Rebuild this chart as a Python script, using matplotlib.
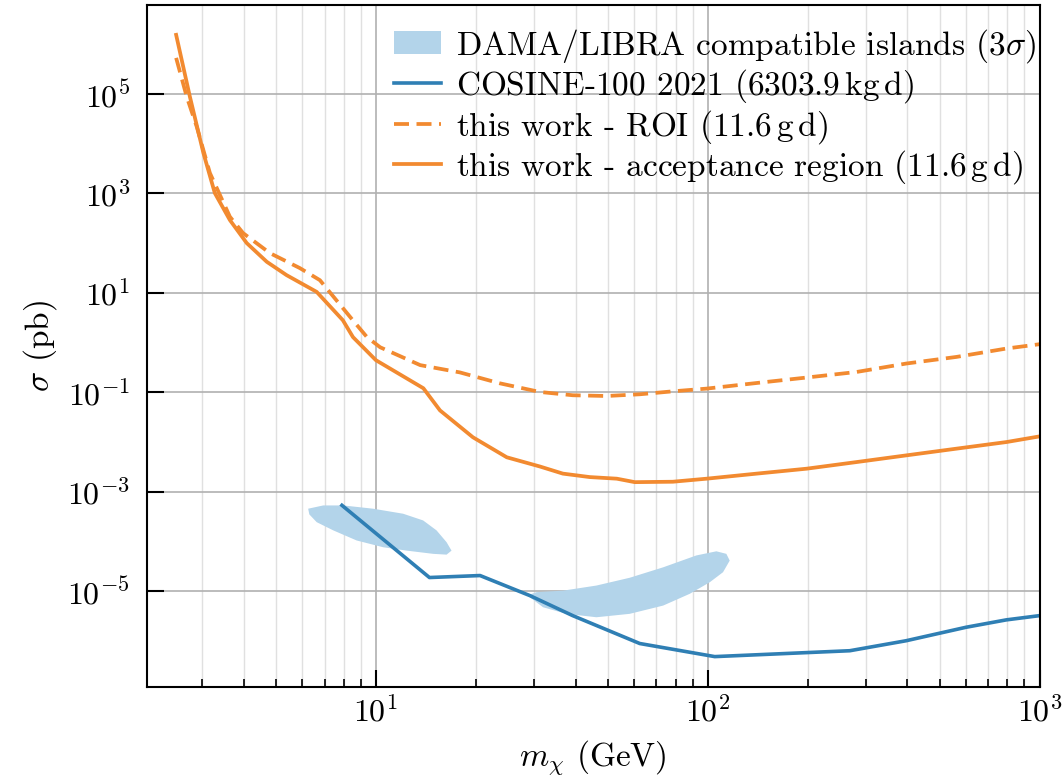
import numpy as np
import matplotlib
matplotlib.use('Agg')
import matplotlib.pyplot as plt

plt.rcParams['font.family'] = 'serif'
plt.rcParams['font.serif'] = ['cmr10']
plt.rcParams['mathtext.fontset'] = 'cm'
plt.rcParams['axes.formatter.use_mathtext'] = True
plt.rcParams['font.size'] = 23

# this work - acceptance region
m_acc = [2.50, 2.75, 3.02, 3.27, 3.63, 4.08, 4.69, 5.38, 6.63, 7.95, 8.53, 10.0, 13.9, 15.6,
         19.6, 24.8, 31.2, 36.6, 44.1, 53.2, 60.3, 78.5, 99.3, 140.5, 198.6, 281, 397,
         562, 795, 1000]
s_acc = [1.54e6, 8.8e4, 6.5e3, 1.01e3, 290, 99.8, 41.9, 22.6, 10.4, 2.8, 1.28, 0.44, 0.12,
         0.043, 0.0124, 0.0049, 0.0032, 0.0023, 0.00196, 0.00182, 0.00155, 0.00158,
         0.00182, 0.0023, 0.00289, 0.00393, 0.00536, 0.00731, 0.00993, 0.0129]

# this work - ROI
m_roi = [2.50, 2.69, 2.884, 3.16, 3.63, 3.98, 4.79, 5.90, 6.78, 8.52, 9.4, 10.3, 13.6,
         17.9, 23.6, 31.2, 39.2, 49.6, 62.4, 78.5, 99.3, 140.5, 198.6, 281, 397, 562,
         795, 1000]
s_roi = [5.3e5, 8.8e4, 2.19e4, 2.56e3, 338, 158, 62.8, 31.3, 17.9, 2.8, 1.28, 0.80, 0.35,
         0.25, 0.151, 0.101, 0.0867, 0.0838, 0.0907, 0.104, 0.118, 0.153, 0.197, 0.255,
         0.377, 0.512, 0.755, 0.922]

# COSINE-100 2021
m_cos = [7.9, 14.5, 20.6, 29.1, 39.2, 62.4, 105, 268, 396, 601, 794, 1000]
s_cos = [5.3e-4, 1.87e-5, 2.05e-5, 8.1e-6, 3.2e-6, 8.8e-7, 4.8e-7, 6.3e-7, 1.0e-6,
         1.87e-6, 2.63e-6, 3.2e-6]

# DAMA/LIBRA islands (contour outlines)
m_dama1 = [6.25, 6.94, 7.97, 9.81, 12.08, 13.88, 15.23, 16.33, 16.9, 16.33, 14.88,
           12.38, 10.52, 8.75, 7.44, 6.63, 6.30]
s_dama1 = [4.53e-4, 5.27e-4, 5.27e-4, 4.53e-4, 3.59e-4, 2.63e-4, 1.66e-4, 9.6e-5, 6.5e-5,
           5.4e-5, 5.6e-5, 6.5e-5, 7.6e-5, 1.04e-4, 1.66e-4, 2.43e-4, 3.48e-4]
m_dama2 = [29.1, 31.9, 37.5, 46.2, 58.2, 73.4, 88.3, 101.4, 111.2, 116.5, 113.8, 106.2,
           92.4, 73.4, 58.2, 46.2, 36.7, 30.5, 29.1]
s_dama2 = [7.5e-6, 4.72e-6, 3.48e-6, 2.97e-6, 3.48e-6, 5.1e-6, 8.8e-6, 1.5e-5, 2.39e-5,
           4.1e-5, 5.6e-5, 6.3e-5, 5.2e-5, 3.0e-5, 1.85e-5, 1.29e-5, 1.02e-5, 9.5e-6, 8.5e-6]

c_orange = '#f28a30'
c_blue = '#2f7fb4'
c_fill = '#b3d4ea'

fig = plt.figure(figsize=(10.64, 7.76), dpi=100)
ax = fig.add_axes([0.138, 0.1147, 0.839, 0.879])

ax.fill(m_dama1, s_dama1, color=c_fill, lw=0, label=r'DAMA/LIBRA compatible islands ($3\sigma$)')
ax.fill(m_dama2, s_dama2, color=c_fill, lw=0)
ax.plot(m_cos, s_cos, color=c_blue, lw=2.6, label=r'COSINE-100 2021 ($6303.9\,\mathrm{kg\,d}$)')
ax.plot(m_roi, s_roi, color=c_orange, lw=2.7, ls=(0, (4, 2)),
        label=r'this work - ROI ($11.6\,\mathrm{g\,d}$)')
ax.plot(m_acc, s_acc, color=c_orange, lw=2.7,
        label=r'this work - acceptance region ($11.6\,\mathrm{g\,d}$)')

ax.set_xscale('log')
ax.set_yscale('log')
ax.set_xlim(2.04, 1000)
ax.set_ylim(10**-6.93, 10**6.79)
ax.set_yticks([1e-5, 1e-3, 1e-1, 1e1, 1e3, 1e5])
ax.yaxis.set_minor_locator(matplotlib.ticker.NullLocator())

ax.grid(which='major', color='#b0b0b0', lw=1.2)
ax.grid(which='minor', axis='x', color='#e0e0e0', lw=1.0)
ax.set_axisbelow(True)
ax.tick_params(which='major', direction='in', length=12, width=1.5, labelsize=23)
ax.tick_params(which='minor', direction='in', length=6, width=1.2)
ax.tick_params(axis='y', pad=12)
ax.tick_params(axis='x', which='major', pad=6)
for sp in ax.spines.values():
    sp.set_linewidth(1.5)

ax.set_xlabel(r'$m_\chi$ (GeV)', fontsize=24, labelpad=8)
ax.set_ylabel(r'$\sigma$ (pb)', fontsize=24, labelpad=6)
ax.legend(loc='upper right', bbox_to_anchor=(1.016, 0.995), frameon=False, fontsize=24,
          handlelength=1.4, handletextpad=0.45, labelspacing=0.08, borderaxespad=0.1,
          borderpad=0.45)

fig.savefig('out.png', dpi=100)
